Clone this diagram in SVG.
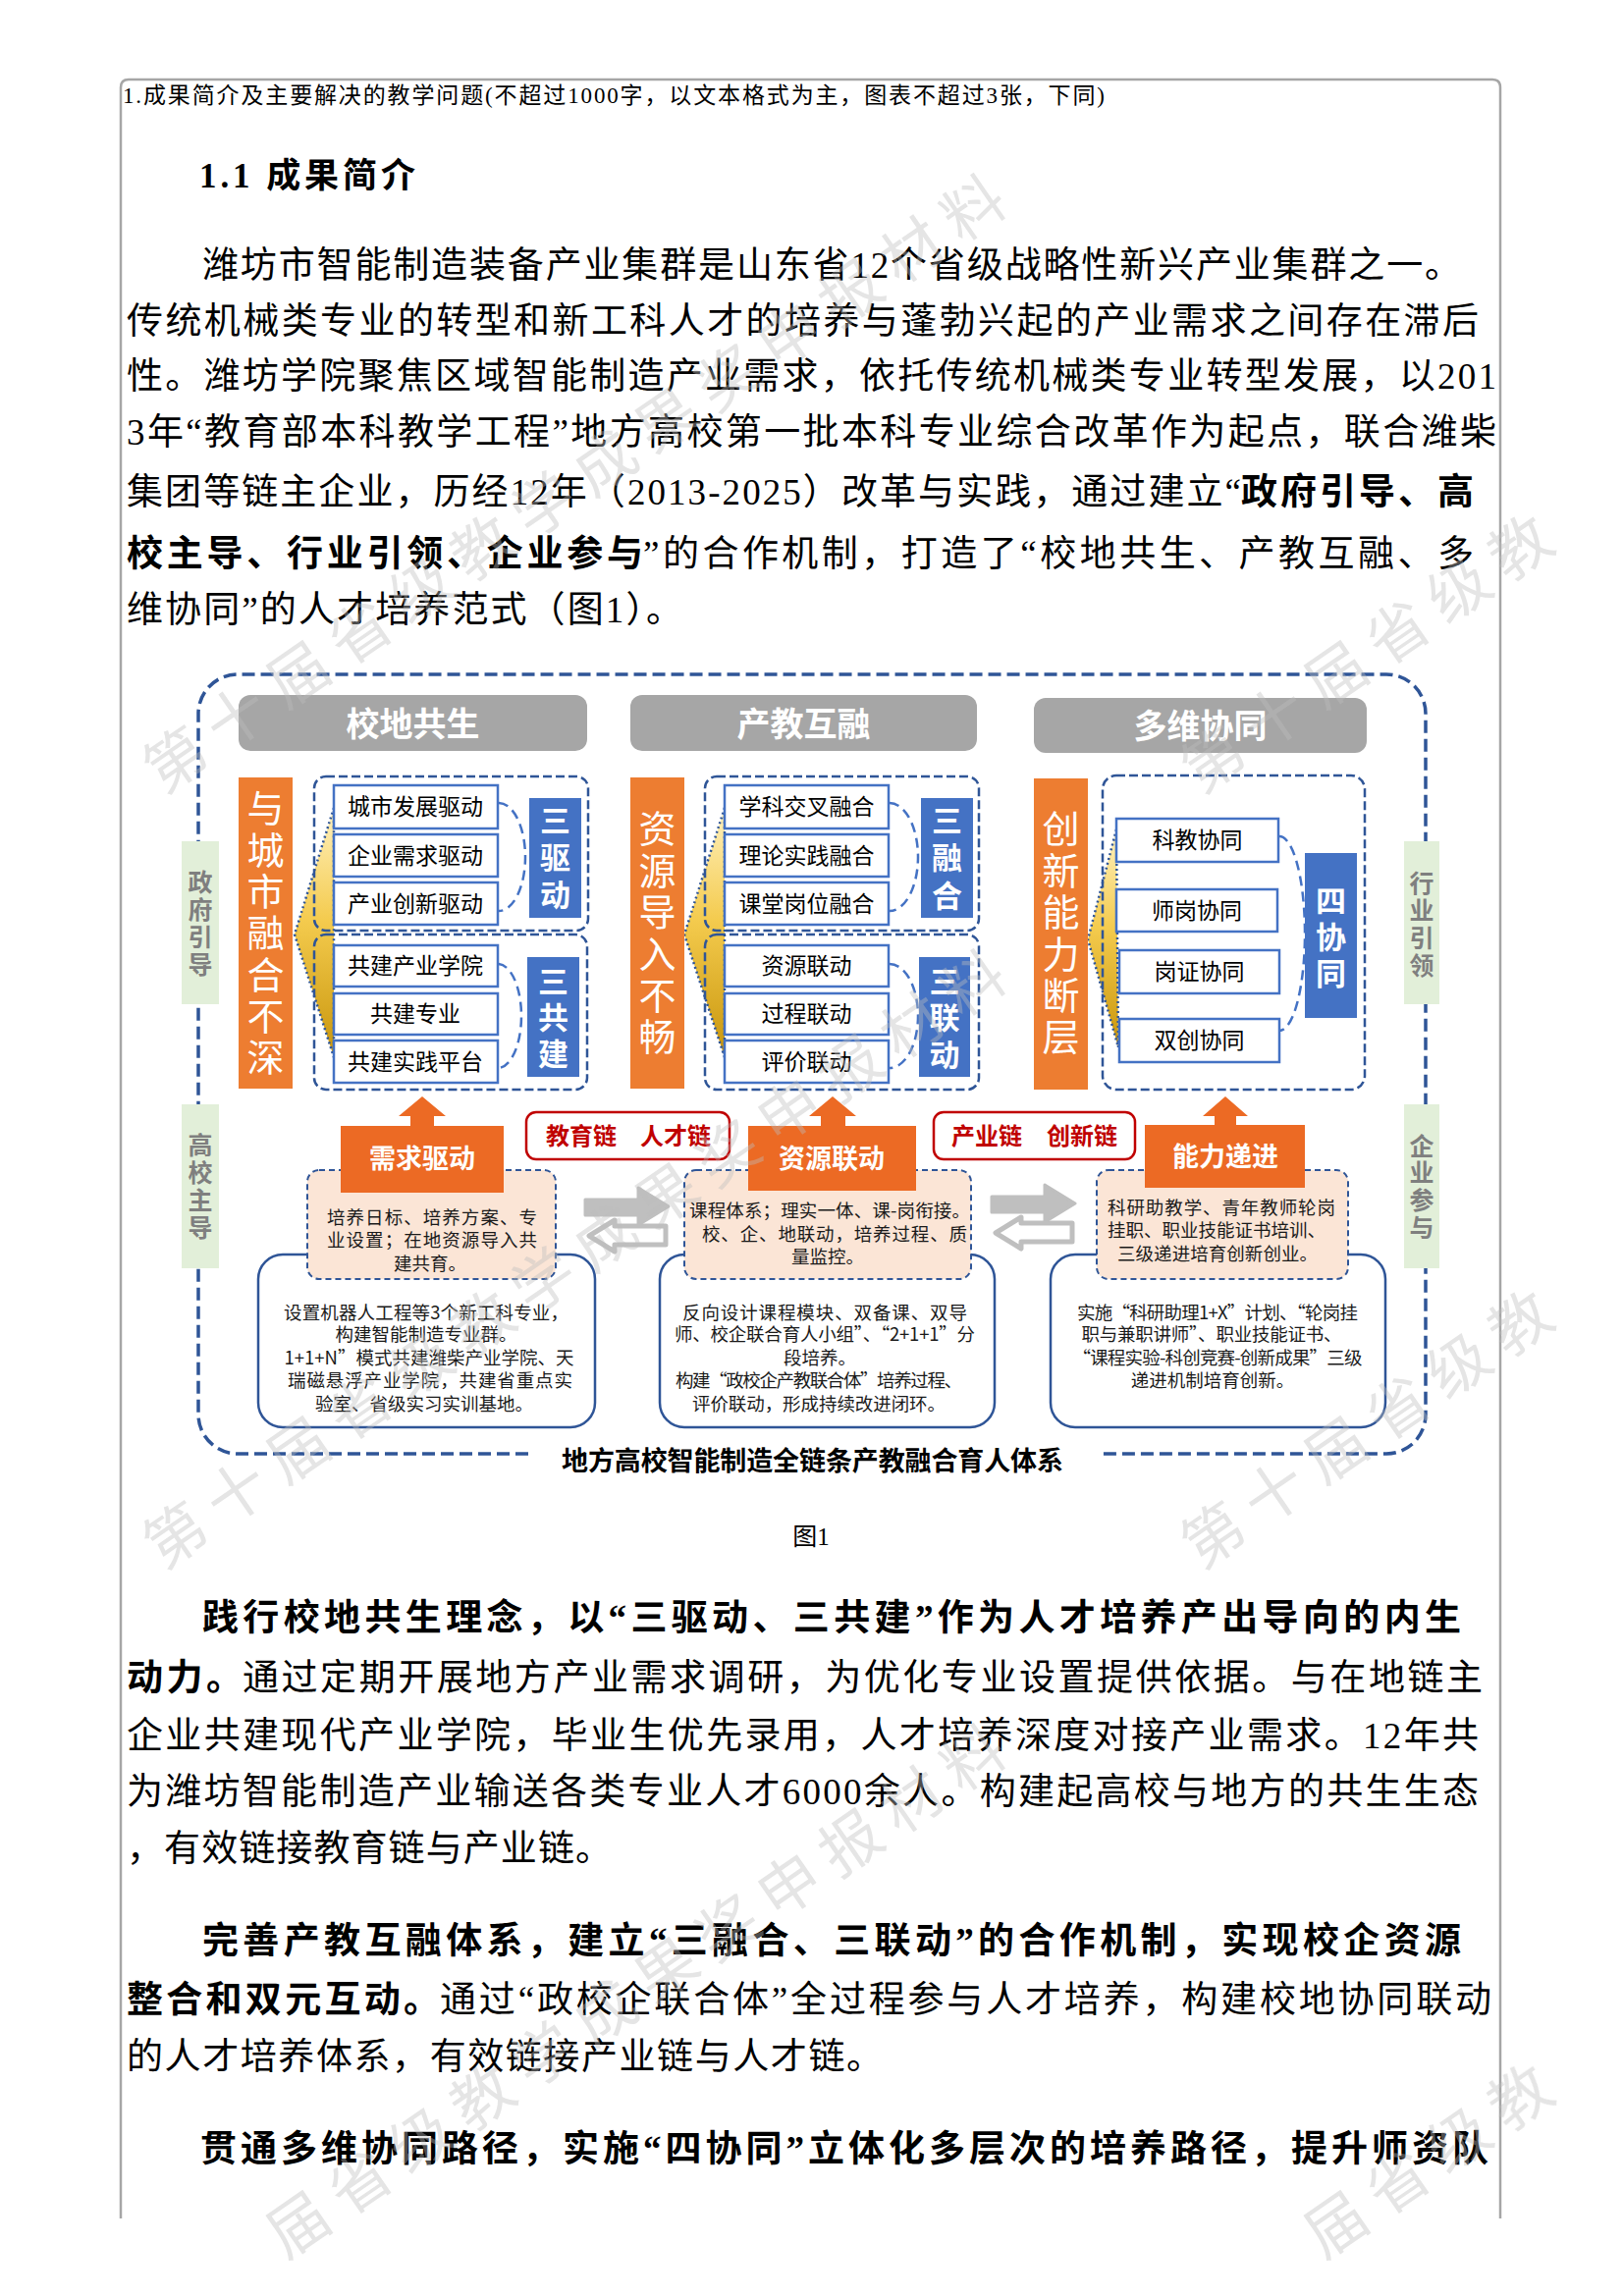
<svg xmlns="http://www.w3.org/2000/svg" width="1653" height="2339" viewBox="0 0 1653 2339">
<defs>
<linearGradient id="gold" x1="0" y1="0" x2="0" y2="1">
<stop offset="0" stop-color="#FFF1BF"/>
<stop offset="0.45" stop-color="#F4CB4E"/>
<stop offset="1" stop-color="#C8950B"/>
</linearGradient>
<g id="dbl">
<path d="M678,1249 L626,1249 L626,1243 L600,1259 L626,1275 L626,1268 L678,1268 Z" fill="#fff" stroke="#BFBFBF" stroke-width="5" stroke-linejoin="round"/>
<path d="M596,1222 L650,1222 L650,1210 L681,1229 L650,1248 L650,1238 L596,1238 Z" fill="#BFBFBF" stroke="#BFBFBF" stroke-width="3" stroke-linejoin="round"/>
</g>
</defs>
<style>
.pg{font-family:"Liberation Serif","Noto Sans CJK SC",serif;fill:#000}
.d{font-family:"Noto Sans CJK SC","Liberation Sans",sans-serif}
.b{font-weight:bold}
.v{writing-mode:vertical-rl;text-anchor:start}
.hdr{fill:#A6A6A6}
.hdt{font-size:34px;font-weight:bold;fill:#fff;text-anchor:middle}
.ob{fill:#ED7D31}
.ot{font-size:38px;fill:#fff}
.bb{fill:#4472C4}
.bt{font-size:31px;font-weight:bold;fill:#fff}
.ib{fill:#fff;stroke:#4472C4;stroke-width:2.5}
.it{font-size:23px;fill:#000;text-anchor:middle}
.db{fill:none;stroke:#2F5597;stroke-width:2.5;stroke-dasharray:9 4}
.arc{fill:none;stroke:#4472C4;stroke-width:2.5;stroke-dasharray:10 6}
.tri{fill:url(#gold);stroke:#2F5597;stroke-width:2.5;stroke-dasharray:2 3}
.gb{fill:#E2EFD9}
.gt{font-size:25px;font-weight:bold;fill:#7F7F7F}
.oa{fill:#EC6A24}
.at{font-size:27px;font-weight:bold;fill:#fff;text-anchor:middle}
.pb{fill:#FBE5D6;stroke:#2F5597;stroke-width:2;stroke-dasharray:6 4}
.pt{font-size:18.5px;fill:#1a1a1a;text-anchor:middle}
.wb{fill:#fff;stroke:#2F5597;stroke-width:2.5}
.wt{font-size:18.5px;fill:#1a1a1a;text-anchor:middle}
.rb{fill:#fff;stroke:#C00000;stroke-width:2.5}
.rt{font-size:24px;font-weight:bold;fill:#C00000;text-anchor:middle}
.tt{font-size:27px;font-weight:bold;fill:#000}
.wm{font-family:"Noto Sans CJK SC",sans-serif;font-size:62px;fill:#BDBDBD;opacity:0.4;text-anchor:middle}
</style>
<rect width="1653" height="2339" fill="#fff"/>

<g id="page-frame">
<path d="M123,2260 L123,89 Q123,81 131,81 L1520,81 Q1528,81 1528,89 L1528,2260" fill="none" stroke="#A6A6A6" stroke-width="2.5"/>
</g>

<g id="page-text" class="pg">
<text x="125" y="105" font-size="23" textLength="1000" lengthAdjust="spacing">1.成果简介及主要解决的教学问题(不超过1000字，以文本格式为主，图表不超过3张，下同)</text>
<text x="203" y="191" font-size="35" font-weight="bold" textLength="220" lengthAdjust="spacing">1.1 成果简介</text>
<g font-size="37">
<text x="206" y="283" textLength="1282" lengthAdjust="spacing">潍坊市智能制造装备产业集群是山东省12个省级战略性新兴产业集群之一。</text>
<text x="129" y="340" textLength="1377" lengthAdjust="spacing">传统机械类专业的转型和新工科人才的培养与蓬勃兴起的产业需求之间存在滞后</text>
<text x="129" y="396" textLength="1395" lengthAdjust="spacing">性。潍坊学院聚焦区域智能制造产业需求，依托传统机械类专业转型发展，以201</text>
<text x="129" y="453" textLength="1395" lengthAdjust="spacing">3年“教育部本科教学工程”地方高校第一批本科专业综合改革作为起点，联合潍柴</text>
<text x="129" y="514" textLength="1135" lengthAdjust="spacing">集团等链主企业，历经12年（2013-2025）改革与实践，通过建立“</text>
<text x="1264" y="514" textLength="237" lengthAdjust="spacing" class="b">政府引导、高</text>
<text x="129" y="577" textLength="526" lengthAdjust="spacing" class="b">校主导、行业引领、企业参与</text>
<text x="655" y="577" textLength="846" lengthAdjust="spacing">”的合作机制，打造了“校地共生、产教互融、多</text>
<text x="129" y="634" textLength="566" lengthAdjust="spacing">维协同”的人才培养范式（图1）。</text>

<text x="826" y="1574" font-size="25" text-anchor="middle">图1</text>

<text x="206" y="1661" textLength="1282" lengthAdjust="spacing" class="b">践行校地共生理念，以“三驱动、三共建”作为人才培养产出导向的内生</text>
<text x="129" y="1722" textLength="118" lengthAdjust="spacing" class="b">动力。</text>
<text x="247" y="1722" textLength="1263" lengthAdjust="spacing">通过定期开展地方产业需求调研，为优化专业设置提供依据。与在地链主</text>
<text x="129" y="1781" textLength="1377" lengthAdjust="spacing">企业共建现代产业学院，毕业生优先录用，人才培养深度对接产业需求。12年共</text>
<text x="129" y="1838" textLength="1377" lengthAdjust="spacing">为潍坊智能制造产业输送各类专业人才6000余人。构建起高校与地方的共生生态</text>
<text x="129" y="1896" textLength="494" lengthAdjust="spacing">，有效链接教育链与产业链。</text>

<text x="206" y="1990" textLength="1282" lengthAdjust="spacing" class="b">完善产教互融体系，建立“三融合、三联动”的合作机制，实现校企资源</text>
<text x="129" y="2050" textLength="319" lengthAdjust="spacing" class="b">整合和双元互动。</text>
<text x="448" y="2050" textLength="1071" lengthAdjust="spacing">通过“政校企联合体”全过程参与人才培养，构建校地协同联动</text>
<text x="129" y="2108" textLength="770" lengthAdjust="spacing">的人才培养体系，有效链接产业链与人才链。</text>

<text x="204" y="2202" textLength="1312" lengthAdjust="spacing" class="b">贯通多维协同路径，实施“四协同”立体化多层次的培养路径，提升师资队</text>
</g>
</g>

<g id="outer-frame">
<path d="M538,1481 L242,1481 A40,40 0 0 1 202,1441 L202,727 A40,40 0 0 1 242,687 L1412,687 A40,40 0 0 1 1452,727 L1452,1441 A40,40 0 0 1 1412,1481 L1118,1481" fill="none" stroke="#2F5597" stroke-width="3.5" stroke-dasharray="13 6"/>
<text class="d tt" x="572" y="1498" textLength="511" lengthAdjust="spacing">地方高校智能制造全链条产教融合育人体系</text>
</g>

<g id="connectors">
<polygon class="tri" points="340,823 300,952 340,1077"/>
<polygon class="tri" points="738,823 697,952 738,1077"/>
<polygon class="tri" points="1137,845 1108,957 1139,1067"/>
<path class="arc" d="M508,818 A27,55 0 0 1 508,928"/>
<path class="arc" d="M507,982 A24,53 0 0 1 507,1088"/>
<path class="arc" d="M906,818 A29,55 0 0 1 906,928"/>
<path class="arc" d="M906,982 A29,53 0 0 1 906,1088"/>
<path class="arc" d="M1303,852 A26,99 0 0 1 1303,1050"/>
<path class="oa" d="M430,1117 L454,1137 L442,1137 L442,1148 L418,1148 L418,1137 L406,1137 Z"/>
<path class="oa" d="M848,1117 L872,1137 L861,1137 L861,1148 L836,1148 L836,1137 L824,1137 Z"/>
<path class="oa" d="M1248,1117 L1271,1137 L1259,1137 L1259,1147 L1237,1147 L1237,1137 L1225,1137 Z"/>
<use href="#dbl"/>
<use href="#dbl" transform="translate(414,-3)"/>
</g>

<g id="col-xiaodi" class="d">
<rect class="hdr" x="243" y="708" width="355" height="57" rx="12"/>
<text class="hdt" x="420.5" y="750">校地共生</text>
<rect class="ob" x="243" y="792" width="55" height="317"/>
<text class="ot v" x="270.5" y="804" letter-spacing="4.3">与城市融合不深</text>
<rect class="db" x="320" y="791" width="279" height="157" rx="12"/>
<rect class="db" x="320" y="952" width="278" height="158" rx="12"/>
<rect class="ib" x="340" y="800" width="167" height="44"/>
<rect class="ib" x="340" y="850" width="167" height="43"/>
<rect class="ib" x="340" y="899" width="167" height="43"/>
<rect class="ib" x="340" y="963" width="167" height="42"/>
<rect class="ib" x="340" y="1012" width="167" height="42"/>
<rect class="ib" x="340" y="1060" width="167" height="43"/>
<text class="it" x="423" y="830">城市发展驱动</text>
<text class="it" x="423" y="880">企业需求驱动</text>
<text class="it" x="423" y="929">产业创新驱动</text>
<text class="it" x="423" y="992">共建产业学院</text>
<text class="it" x="423" y="1041">共建专业</text>
<text class="it" x="423" y="1090">共建实践平台</text>
<rect class="bb" x="539" y="813" width="53" height="122"/>
<text class="bt v" x="565.5" y="819.5" letter-spacing="7">三驱动</text>
<rect class="bb" x="537" y="975" width="53" height="122"/>
<text class="bt v" x="563.5" y="983.5" letter-spacing="6">三共建</text>
</g>

<g id="col-chanjiao" class="d">
<rect class="hdr" x="642" y="708" width="353" height="57" rx="12"/>
<text class="hdt" x="818.5" y="750">产教互融</text>
<rect class="ob" x="642" y="792" width="55" height="317"/>
<text class="ot v" x="669.5" y="825" letter-spacing="4.4">资源导入不畅</text>
<rect class="db" x="718" y="791" width="279" height="157" rx="12"/>
<rect class="db" x="718" y="952" width="279" height="158" rx="12"/>
<rect class="ib" x="738" y="800" width="167" height="44"/>
<rect class="ib" x="738" y="850" width="167" height="43"/>
<rect class="ib" x="738" y="899" width="167" height="43"/>
<rect class="ib" x="738" y="963" width="167" height="42"/>
<rect class="ib" x="738" y="1012" width="167" height="42"/>
<rect class="ib" x="738" y="1060" width="167" height="43"/>
<text class="it" x="821.5" y="830">学科交叉融合</text>
<text class="it" x="821.5" y="880">理论实践融合</text>
<text class="it" x="821.5" y="929">课堂岗位融合</text>
<text class="it" x="821.5" y="992">资源联动</text>
<text class="it" x="821.5" y="1041">过程联动</text>
<text class="it" x="821.5" y="1090">评价联动</text>
<rect class="bb" x="938" y="813" width="53" height="122"/>
<text class="bt v" x="964.5" y="819.5" letter-spacing="7.5">三融合</text>
<rect class="bb" x="936" y="975" width="52" height="122"/>
<text class="bt v" x="962" y="983.5" letter-spacing="6.5">三联动</text>
</g>

<g id="col-duowei" class="d">
<rect class="hdr" x="1053" y="711" width="339" height="56" rx="12"/>
<text class="hdt" x="1222.5" y="752">多维协同</text>
<rect class="ob" x="1053" y="793" width="55" height="317"/>
<text class="ot v" x="1080.5" y="825" letter-spacing="4.4">创新能力断层</text>
<rect class="db" x="1123" y="790" width="267" height="320" rx="14"/>
<rect class="ib" x="1137" y="834" width="165" height="44"/>
<rect class="ib" x="1137" y="906" width="164" height="43"/>
<rect class="ib" x="1140" y="968" width="163" height="44"/>
<rect class="ib" x="1140" y="1038" width="163" height="44"/>
<text class="it" x="1219.5" y="864">科教协同</text>
<text class="it" x="1219" y="936">师岗协同</text>
<text class="it" x="1221.5" y="998">岗证协同</text>
<text class="it" x="1221.5" y="1068">双创协同</text>
<rect class="bb" x="1329" y="869" width="53" height="168"/>
<text class="bt v" x="1355.5" y="901.5" letter-spacing="6">四协同</text>
</g>

<g id="side-labels" class="d">
<rect class="gb" x="185" y="857" width="38" height="166"/>
<text class="gt v" x="204" y="885.5" letter-spacing="3.3">政府引导</text>
<rect class="gb" x="185" y="1125" width="38" height="167"/>
<text class="gt v" x="204" y="1153.5" letter-spacing="3.3">高校主导</text>
<rect class="gb" x="1430" y="857" width="36" height="166"/>
<text class="gt v" x="1448" y="886.5" letter-spacing="3">行业引领</text>
<rect class="gb" x="1430" y="1125" width="36" height="167"/>
<text class="gt v" x="1448" y="1154.5" letter-spacing="2.7">企业参与</text>
</g>

<g id="chain-labels" class="d">
<rect class="rb" x="536" y="1133" width="207" height="48" rx="10"/>
<text class="rt" x="592" y="1166">教育链</text>
<text class="rt" x="688" y="1166">人才链</text>
<rect class="rb" x="951" y="1133" width="205" height="48" rx="10"/>
<text class="rt" x="1005" y="1166">产业链</text>
<text class="rt" x="1102" y="1166">创新链</text>
</g>

<g id="node-xuqiu" class="d">
<rect class="wb" x="263" y="1278" width="343" height="176" rx="25"/>
<rect class="pb" x="313" y="1192" width="253" height="111" rx="12"/>
<rect class="oa" x="347" y="1147" width="166" height="68"/>
<text class="at" x="430" y="1190">需求驱动</text>
<text class="pt" x="440" y="1247" textLength="214" lengthAdjust="spacing">培养日标、培养方案、专</text>
<text class="pt" x="440" y="1270" textLength="214" lengthAdjust="spacing">业设置；在地资源导入共</text>
<text class="pt" x="438" y="1294">建共育。</text>
<text class="wt" x="434" y="1344" textLength="290" lengthAdjust="spacing">设置机器人工程等3个新工科专业，</text>
<text class="wt" x="434" y="1366">构建智能制造专业群。</text>
<text class="wt" x="437" y="1390" textLength="295" lengthAdjust="spacing">1+1+N”模式共建潍柴产业学院、天</text>
<text class="wt" x="438" y="1413" textLength="290" lengthAdjust="spacing">瑞磁悬浮产业学院，共建省重点实</text>
<text class="wt" x="432" y="1437">验室、省级实习实训基地。</text>
</g>

<g id="node-ziyuan" class="d">
<rect class="wb" x="672" y="1278" width="341" height="176" rx="25"/>
<rect class="pb" x="697" y="1192" width="292" height="111" rx="12"/>
<rect class="oa" x="762" y="1147" width="171" height="66"/>
<text class="at" x="847" y="1190">资源联动</text>
<text class="pt" x="845" y="1240" textLength="286" lengthAdjust="spacing">课程体系；理实一体、课-岗衔接。</text>
<text class="pt" x="850" y="1264" textLength="270" lengthAdjust="spacing">校、企、地联动，培养过程、质</text>
<text class="pt" x="843" y="1287">量监控。</text>
<text class="wt" x="840" y="1344" textLength="290" lengthAdjust="spacing">反向设计课程模块、双备课、双导</text>
<text class="wt" x="840" y="1366" textLength="306" lengthAdjust="spacing">师、校企联合育人小组”、“2+1+1”分</text>
<text class="wt" x="835" y="1390">段培养。</text>
<text class="wt" x="834" y="1413" textLength="292" lengthAdjust="spacing">构建“政校企产教联合体”培养过程、</text>
<text class="wt" x="834" y="1437" textLength="258" lengthAdjust="spacing">评价联动，形成持续改进闭环。</text>
</g>

<g id="node-nengli" class="d">
<rect class="wb" x="1070" y="1278" width="341" height="176" rx="25"/>
<rect class="pb" x="1117" y="1192" width="256" height="111" rx="12"/>
<rect class="oa" x="1166" y="1146" width="163" height="64"/>
<text class="at" x="1248" y="1188">能力递进</text>
<text class="pt" x="1244" y="1237" textLength="232" lengthAdjust="spacing">科研助教学、青年教师轮岗</text>
<text class="pt" x="1239" y="1260" textLength="222" lengthAdjust="spacing">挂职、职业技能证书培训、</text>
<text class="pt" x="1240" y="1284" textLength="204" lengthAdjust="spacing">三级递进培育创新创业。</text>
<text class="wt" x="1240" y="1344" textLength="286" lengthAdjust="spacing">实施“科研助理1+X”计划、“轮岗挂</text>
<text class="wt" x="1234" y="1366" textLength="265" lengthAdjust="spacing">职与兼职讲师”、职业技能证书、</text>
<text class="wt" x="1240" y="1390" textLength="295" lengthAdjust="spacing">“课程实验-科创竞赛-创新成果”三级</text>
<text class="wt" x="1235" y="1413">递进机制培育创新。</text>
</g>

<g id="watermarks" class="wm">
<text transform="translate(179,774) rotate(-34.6)" y="22">第</text>
<text transform="translate(241.5,730.8) rotate(-34.6)" y="22">十</text>
<text transform="translate(304,687.6) rotate(-34.6)" y="22">届</text>
<text transform="translate(366.5,644.4) rotate(-34.6)" y="22">省</text>
<text transform="translate(429,601.2) rotate(-34.6)" y="22">级</text>
<text transform="translate(491.5,558) rotate(-34.6)" y="22">教</text>
<text transform="translate(554,514.8) rotate(-34.6)" y="22">学</text>
<text transform="translate(616.5,471.6) rotate(-34.6)" y="22">成</text>
<text transform="translate(679,428.4) rotate(-34.6)" y="22">果</text>
<text transform="translate(741.5,385.2) rotate(-34.6)" y="22">奖</text>
<text transform="translate(804,342) rotate(-34.6)" y="22">申</text>
<text transform="translate(866.5,298.8) rotate(-34.6)" y="22">报</text>
<text transform="translate(929,255.6) rotate(-34.6)" y="22">材</text>
<text transform="translate(991.5,212.4) rotate(-34.6)" y="22">料</text>

<text transform="translate(1236,774) rotate(-34.6)" y="22">第</text>
<text transform="translate(1298.5,730.8) rotate(-34.6)" y="22">十</text>
<text transform="translate(1361,687.6) rotate(-34.6)" y="22">届</text>
<text transform="translate(1423.5,644.4) rotate(-34.6)" y="22">省</text>
<text transform="translate(1486,601.2) rotate(-34.6)" y="22">级</text>
<text transform="translate(1548.5,558) rotate(-34.6)" y="22">教</text>

<text transform="translate(179,1564) rotate(-34.6)" y="22">第</text>
<text transform="translate(241.5,1520.8) rotate(-34.6)" y="22">十</text>
<text transform="translate(304,1477.6) rotate(-34.6)" y="22">届</text>
<text transform="translate(366.5,1434.4) rotate(-34.6)" y="22">省</text>
<text transform="translate(429,1391.2) rotate(-34.6)" y="22">级</text>
<text transform="translate(491.5,1348) rotate(-34.6)" y="22">教</text>
<text transform="translate(554,1304.8) rotate(-34.6)" y="22">学</text>
<text transform="translate(616.5,1261.6) rotate(-34.6)" y="22">成</text>
<text transform="translate(679,1218.4) rotate(-34.6)" y="22">果</text>
<text transform="translate(741.5,1175.2) rotate(-34.6)" y="22">奖</text>
<text transform="translate(804,1132) rotate(-34.6)" y="22">申</text>
<text transform="translate(866.5,1088.8) rotate(-34.6)" y="22">报</text>
<text transform="translate(929,1045.6) rotate(-34.6)" y="22">材</text>
<text transform="translate(991.5,1002.4) rotate(-34.6)" y="22">料</text>

<text transform="translate(1236,1564) rotate(-34.6)" y="22">第</text>
<text transform="translate(1298.5,1520.8) rotate(-34.6)" y="22">十</text>
<text transform="translate(1361,1477.6) rotate(-34.6)" y="22">届</text>
<text transform="translate(1423.5,1434.4) rotate(-34.6)" y="22">省</text>
<text transform="translate(1486,1391.2) rotate(-34.6)" y="22">级</text>
<text transform="translate(1548.5,1348) rotate(-34.6)" y="22">教</text>

<text transform="translate(304,2266.6) rotate(-34.6)" y="22">届</text>
<text transform="translate(366.5,2223.4) rotate(-34.6)" y="22">省</text>
<text transform="translate(429,2180.2) rotate(-34.6)" y="22">级</text>
<text transform="translate(491.5,2137) rotate(-34.6)" y="22">教</text>
<text transform="translate(554,2093.8) rotate(-34.6)" y="22">学</text>
<text transform="translate(616.5,2050.6) rotate(-34.6)" y="22">成</text>
<text transform="translate(679,2007.4) rotate(-34.6)" y="22">果</text>
<text transform="translate(741.5,1964.2) rotate(-34.6)" y="22">奖</text>
<text transform="translate(804,1921) rotate(-34.6)" y="22">申</text>
<text transform="translate(866.5,1877.8) rotate(-34.6)" y="22">报</text>
<text transform="translate(929,1834.6) rotate(-34.6)" y="22">材</text>
<text transform="translate(991.5,1791.4) rotate(-34.6)" y="22">料</text>

<text transform="translate(1361,2266.6) rotate(-34.6)" y="22">届</text>
<text transform="translate(1423.5,2223.4) rotate(-34.6)" y="22">省</text>
<text transform="translate(1486,2180.2) rotate(-34.6)" y="22">级</text>
<text transform="translate(1548.5,2137) rotate(-34.6)" y="22">教</text>
</g>
</svg>
